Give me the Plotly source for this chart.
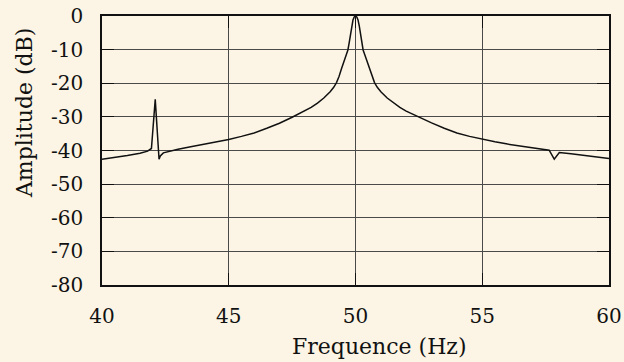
import plotly.graph_objects as go

freq = [40.0, 40.5, 41.0, 41.5, 41.8, 41.95, 42.1, 42.25, 42.3, 42.42, 42.7, 43.0, 43.5, 44.0, 44.5,
        45.0, 45.5, 46.0, 46.5, 47.0, 47.5, 48.0, 48.25, 48.5, 48.75, 49.0, 49.14, 49.25, 49.35,
        49.45, 49.55, 49.62, 49.7, 49.75, 49.8, 49.85, 49.9, 49.95, 50.0,
        50.05, 50.1, 50.15, 50.2, 50.25, 50.3, 50.38, 50.45, 50.55, 50.65, 50.75, 50.86, 51.0,
        51.25, 51.5, 51.75, 52.0, 52.5, 53.0, 53.5, 54.0, 54.5, 55.0, 55.5, 56.0, 56.5, 56.92,
        57.3, 57.64, 57.84, 58.04, 58.5, 59.0, 59.5, 60.0]
amp = [-42.6, -42.1, -41.5, -40.8, -40.2, -39.4, -24.8, -42.6, -41.6, -40.7, -40.1, -39.6, -38.9, -38.2, -37.5,
       -36.7, -35.8, -34.8, -33.4, -31.9, -30.1, -28.3, -27.2, -25.9, -24.4, -22.5, -21.2, -19.8, -18.0,
       -15.6, -13.3, -11.8, -10.1, -8.0, -5.4, -3.0, -1.2, -0.3, 0.0,
       -0.3, -1.2, -3.0, -5.4, -8.0, -10.1, -11.8, -13.3, -15.6, -18.0, -19.8, -21.2, -22.5,
       -24.4, -25.9, -27.2, -28.3, -30.1, -31.8, -33.4, -34.8, -35.8, -36.7, -37.4, -38.1, -38.7, -39.1,
       -39.5, -39.9, -42.6, -40.6, -41.0, -41.5, -42.0, -42.4]

x_ticks = [40, 45, 50, 55, 60]
x_ticktext = ["40", "45", "50", "55", "60"]
y_ticks = [0, -10, -20, -30, -40, -50, -60, -70, -80]
y_ticktext = ["0", "-10", "-20", "-30", "-40", "-50", "-60", "-70", "-80"]
x_title = "Frequence (Hz)"
y_title = "Amplitude (dB)"

BG = "#fcf5e5"
FONT = "DejaVu Serif"

fig = go.Figure()
fig.add_trace(go.Scatter(x=freq, y=amp, mode="lines",
                         line=dict(color="#111111", width=1.5), showlegend=False))

axis_common = dict(showgrid=True, gridcolor="#4a4a4a", gridwidth=1,
                   showline=True, linecolor="#111111", linewidth=1.5, mirror="allticks",
                   ticks="inside", ticklen=12, tickcolor="#111111", tickwidth=1.2,
                   zeroline=False, automargin=False,
                   tickfont=dict(family=FONT, size=20, color="#111111"))

fig.update_xaxes(range=[40, 60], tickvals=x_ticks, ticktext=x_ticktext,
                 ticklabelstandoff=12, **axis_common)
fig.update_yaxes(range=[-80, 0], tickvals=y_ticks, ticktext=y_ticktext,
                 ticklabelstandoff=13, **axis_common)

fig.update_layout(
    width=624, height=362,
    margin=dict(l=102, r=15, t=16, b=77, autoexpand=False),
    paper_bgcolor=BG, plot_bgcolor=BG,
    annotations=[
        dict(text=x_title, xref="paper", yref="paper", x=0.548, y=-0.23,
             showarrow=False, xanchor="center", yanchor="middle",
             font=dict(family=FONT, size=22, color="#111111")),
        dict(text=y_title, xref="paper", yref="paper", x=-0.154, y=0.639,
             showarrow=False, xanchor="center", yanchor="middle", textangle=-90,
             font=dict(family=FONT, size=22, color="#111111")),
    ],
)

fig.write_html("out.html")
